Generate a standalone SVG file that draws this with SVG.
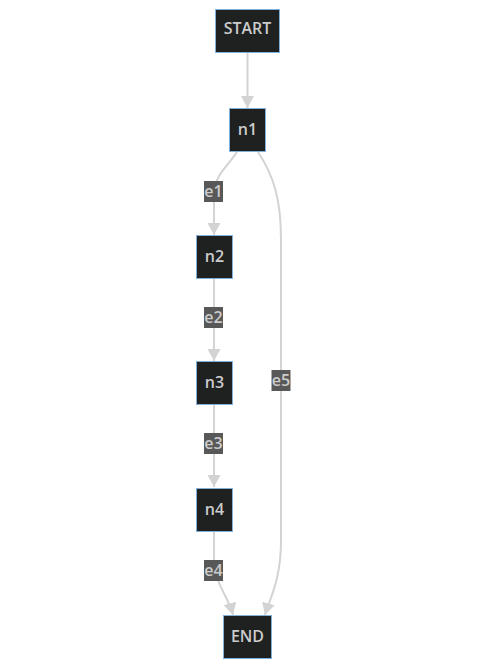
<svg xmlns="http://www.w3.org/2000/svg" width="487" height="668" viewBox="0 0 487 668">
<defs>
<marker id="arrow" viewBox="0 0 12 13" refX="12" refY="6.5" markerWidth="12" markerHeight="13" markerUnits="userSpaceOnUse" orient="auto">
<path d="M0,0 L12,6.5 L0,13 z" fill="#d3d3d3"/>
</marker>
<style>
.node rect{fill:#1f2020;stroke:#81b1db;stroke-width:1}
.node text{fill:#cccccc;font-family:"Open Sans","DejaVu Sans",sans-serif;font-weight:600;font-size:16px;text-anchor:middle}
.edge{fill:none;stroke:#d3d3d3;stroke-width:2;marker-end:url(#arrow)}
.elabel rect{fill:#585858}
.elabel text{fill:#cccccc;font-family:"Open Sans","DejaVu Sans",sans-serif;font-weight:600;font-size:16px;text-anchor:middle}
</style>
</defs>
<rect width="487" height="668" fill="#ffffff"/>
<g id="connectors">
<path class="edge" d="M247.5,52 L247.5,108"/>
<path class="edge" d="M237,152 C228,166 214,176 214,193 L214,235"/>
<path class="edge" d="M214,279 L214,361"/>
<path class="edge" d="M214,405 L214,487"/>
<path class="edge" d="M214,532 L214,560 C214,582 228,596 233,615"/>
<path class="edge" d="M258,152 C274,176 281,200 281,240 L281,540 C281,580 270,598 265,615"/>
</g>
<g id="edge-labels">
<g class="elabel" id="label-e1"><rect x="204" y="181" width="19" height="21"/><text x="213.5" y="197">e1</text></g>
<g class="elabel" id="label-e2"><rect x="204" y="307" width="19" height="21"/><text x="213.5" y="323">e2</text></g>
<g class="elabel" id="label-e3"><rect x="204" y="433" width="19" height="21"/><text x="213.5" y="449">e3</text></g>
<g class="elabel" id="label-e4"><rect x="204" y="560" width="19" height="21"/><text x="213.5" y="576">e4</text></g>
<g class="elabel" id="label-e5"><rect x="271.5" y="370" width="19" height="21"/><text x="281" y="386">e5</text></g>
</g>
<g class="node" id="START"><rect x="215.5" y="9.5" width="64" height="43"/><text x="247.5" y="34">START</text></g>
<g class="node" id="n1"><rect x="229.5" y="108.5" width="36" height="43"/><text x="247.5" y="135">n1</text></g>
<g class="node" id="n2"><rect x="196.5" y="235.5" width="36" height="43"/><text x="214.5" y="262">n2</text></g>
<g class="node" id="n3"><rect x="196.5" y="361.5" width="36" height="43"/><text x="214.5" y="388">n3</text></g>
<g class="node" id="n4"><rect x="196.5" y="488.5" width="36" height="43"/><text x="214.5" y="515">n4</text></g>
<g class="node" id="END"><rect x="223.5" y="615.5" width="48" height="43"/><text x="247.5" y="642">END</text></g>
</svg>
